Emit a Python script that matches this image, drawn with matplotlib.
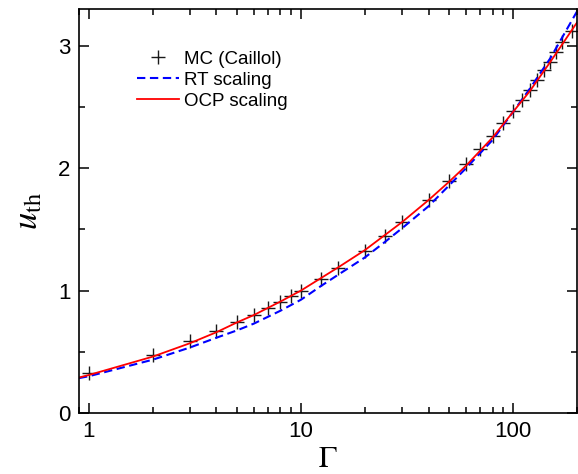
import numpy as np
import matplotlib
matplotlib.use("Agg")
import matplotlib.pyplot as plt
from matplotlib.ticker import LogLocator, MultipleLocator, FixedLocator, FixedFormatter, NullFormatter

plt.rcParams['font.family'] = ['Liberation Sans', 'DejaVu Sans']
plt.rcParams['mathtext.fontset'] = 'stix'

# MC data (Caillol)
mc_gamma = [1, 2, 3, 4, 5, 6, 7, 8, 9, 10, 12.5, 15, 20, 25, 30, 40, 50, 60, 70,
            80, 90, 100, 110, 120, 130, 140, 150, 160, 170, 190]
mc_u = [0.326, 0.47, 0.585, 0.668, 0.744, 0.804, 0.861, 0.907, 0.956, 0.997,
        1.098, 1.184, 1.323, 1.448, 1.557, 1.742, 1.899, 2.032, 2.157,
        2.26, 2.37, 2.47, 2.557, 2.64, 2.72, 2.80, 2.87, 2.95, 3.03, 3.12]

# RT scaling
rt_gamma = [0.9, 1, 2, 3, 4, 5, 6, 8, 10, 12.5, 15, 20, 25, 30, 40, 50, 60, 80, 100, 120, 150, 200]
rt_u = [0.285, 0.30, 0.435, 0.535, 0.615, 0.675, 0.73, 0.835, 0.925, 1.04, 1.13, 1.27, 1.40,
        1.51, 1.69, 1.86, 2.00, 2.23, 2.46, 2.65, 2.90, 3.28]

# OCP scaling
ocp_gamma = [0.9, 1, 2, 3, 4, 5, 6, 8, 10, 15, 20, 30, 40, 50, 60, 80, 100, 120, 150, 200]
ocp_u = [0.29, 0.31, 0.46, 0.57, 0.66, 0.74, 0.80, 0.91, 1.00, 1.19, 1.33, 1.56,
         1.74, 1.89, 2.02, 2.25, 2.46, 2.63, 2.87, 3.19]

fig = plt.figure(figsize=(5.78, 4.74), dpi=100)
ax = fig.add_axes([79 / 578, 1 - 413 / 474, (577 - 79) / 578, (413 - 9) / 474])

ax.plot(mc_gamma, mc_u, linestyle='none', marker='+', color='#1a1a1a',
        markersize=10, markeredgewidth=1.0, label='MC (Caillol)')
ax.plot(rt_gamma, rt_u, color='#0000ff', linestyle=(0, (4, 2.2)), linewidth=1.5,
        label='RT scaling')
ax.plot(ocp_gamma, ocp_u, color='#ff0000', linewidth=1.3, label='OCP scaling')

ax.set_xscale('log')
ax.set_xlim(0.9, 200)
ax.set_ylim(0, 3.3)

ax.xaxis.set_major_locator(FixedLocator([1, 10, 100]))
ax.xaxis.set_major_formatter(FixedFormatter(['1', '10', '100']))
ax.xaxis.set_minor_locator(LogLocator(base=10, subs=np.arange(2, 10)))
ax.xaxis.set_minor_formatter(NullFormatter())
ax.yaxis.set_major_locator(MultipleLocator(1))
ax.yaxis.set_minor_locator(MultipleLocator(0.5))

ax.tick_params(which='both', direction='in', top=True, right=True, width=1.1)
ax.tick_params(which='major', length=7, labelsize=16, pad=6)
ax.tick_params(which='minor', length=4)
for s in ax.spines.values():
    s.set_linewidth(1.2)

ax.set_xlabel(r'$\Gamma$', fontsize=22, labelpad=1)
ax.set_ylabel(r'$u_{\mathrm{th}}$', fontsize=25, labelpad=10)

ax.legend(loc='upper left', bbox_to_anchor=(0.102, 0.915), frameon=False,
          fontsize=13.5, handlelength=2.2, handletextpad=0.3, labelspacing=0.2,
          borderaxespad=0)

fig.savefig('out.png', dpi=100)
